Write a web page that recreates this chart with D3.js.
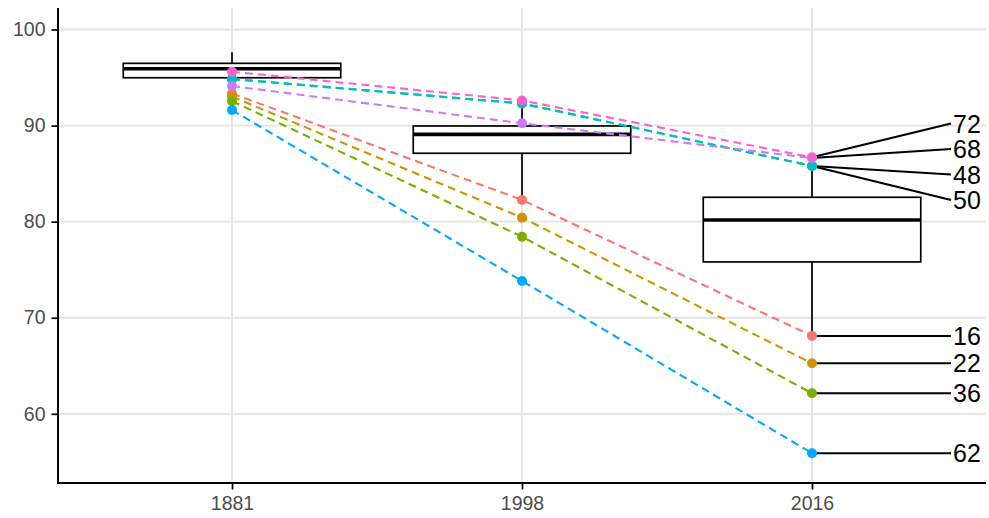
<!DOCTYPE html>
<html>
<head>
<meta charset="utf-8">
<script src="https://cdn.jsdelivr.net/npm/d3@7"></script>
<style>
  html, body { margin: 0; padding: 0; background: #fff; }
  svg { display: block; }
</style>
</head>
<body>
<svg id="chart" width="989" height="518"></svg>
<script>
// ---- data ----
const years = ["1881", "1998", "2016"];
const groups = ["16", "22", "36", "48", "50", "62", "68", "72"];
const groupColors = ["#F8766D", "#CD9600", "#7CAE00", "#00BE67", "#00BFC4", "#00A9FF", "#C77CFF", "#FF61CC"];
const v16 = [93.35, 82.26, 68.11];
const v22 = [93.02, 80.42, 65.26];
const v36 = [92.55, 78.44, 62.14];
const v48 = [94.85, 92.30, 85.80];
const v50 = [94.85, 92.30, 85.80];
const v62 = [91.62, 73.83, 55.90];
const v68 = [94.12, 90.24, 86.62];
const v72 = [95.61, 92.62, 86.70];
const seriesValues = [v16, v22, v36, v48, v50, v62, v68, v72];

// boxplot statistics per year
const whiskerLow  = [93.40, 82.26, 68.11];
const boxQ1       = [94.98, 87.12, 75.81];
const boxMedian   = [95.92, 89.09, 80.18];
const boxQ3       = [96.48, 89.96, 82.54];
const whiskerHigh = [97.63, 92.62, 85.80];

const yTicks = [60, 70, 80, 90, 100];

// ---- layout ----
const svg = d3.select("#chart");
const mLeft = 58, mRight = 986, mTop = 8, mBottom = 483;

const x = d3.scalePoint().domain(years).range([mLeft, mRight]).padding(0.6);
const y = d3.scaleLinear().domain([52.8, 102.24]).range([mBottom, mTop]);
const boxW = x.step() * 0.75;

// grid
const grid = svg.append("g");
grid.selectAll("line.h").data(yTicks).join("line")
  .attr("x1", mLeft).attr("x2", mRight)
  .attr("y1", d => y(d)).attr("y2", d => y(d))
  .attr("stroke", "#E3E3E3").attr("stroke-width", 1.8);
grid.selectAll("line.v").data(years).join("line")
  .attr("y1", mTop).attr("y2", mBottom)
  .attr("x1", d => x(d)).attr("x2", d => x(d))
  .attr("stroke", "#E3E3E3").attr("stroke-width", 1.8);

// boxplots
const boxes = svg.append("g");
years.forEach((yr, i) => {
  const cx = x(yr);
  const g = boxes.append("g");
  g.append("line").attr("x1", cx).attr("x2", cx)
    .attr("y1", y(whiskerHigh[i])).attr("y2", y(boxQ3[i]))
    .attr("stroke", "#000").attr("stroke-width", 1.7);
  g.append("line").attr("x1", cx).attr("x2", cx)
    .attr("y1", y(boxQ1[i])).attr("y2", y(whiskerLow[i]))
    .attr("stroke", "#000").attr("stroke-width", 1.7);
  g.append("rect").attr("x", cx - boxW / 2).attr("width", boxW)
    .attr("y", y(boxQ3[i])).attr("height", y(boxQ1[i]) - y(boxQ3[i]))
    .attr("fill", "#fff").attr("stroke", "#000").attr("stroke-width", 1.7);
  g.append("line").attr("x1", cx - boxW / 2).attr("x2", cx + boxW / 2)
    .attr("y1", y(boxMedian[i])).attr("y2", y(boxMedian[i]))
    .attr("stroke", "#000").attr("stroke-width", 3.6);
});

// dashed lines
const line = d3.line().x((d, i) => x(years[i])).y(d => y(d));
svg.append("g").selectAll("path").data(seriesValues).join("path")
  .attr("d", d => line(d))
  .attr("fill", "none")
  .attr("stroke", (d, i) => groupColors[i])
  .attr("stroke-width", 2.1)
  .attr("stroke-dasharray", "8,5");

// label segments + labels for 2016 (simple repel)
const lastIdx = years.length - 1;
const lx = x(years[lastIdx]);
const labelItems = groups.map((g, i) => ({ name: g, py: y(seriesValues[i][lastIdx]), color: groupColors[i] }));
labelItems.sort((a, b) => a.py - b.py);
labelItems.forEach(d => d.ly = d.py);
const gap = 25.5;
let clusters = labelItems.map(d => [d]);
let merged = true;
while (merged) {
  merged = false;
  for (let k = 0; k < clusters.length - 1; k++) {
    const a = clusters[k], b = clusters[k + 1];
    const aEnd = a[a.length - 1].ly, bStart = b[0].ly;
    if (bStart - aEnd < gap - 1e-6) {
      const c = a.concat(b);
      const mean = d3.mean(c, d => d.py);
      const n = c.length;
      c.forEach((d, j) => d.ly = mean + (j - (n - 1) / 2) * gap);
      clusters.splice(k, 2, c);
      merged = true;
      break;
    }
  }
}
const segEnd = 951;
const lab = svg.append("g");
lab.selectAll("line").data(labelItems).join("line")
  .attr("x1", lx).attr("y1", d => d.py)
  .attr("x2", segEnd).attr("y2", d => d.ly)
  .attr("stroke", "#000").attr("stroke-width", 2);

// points
const pts = svg.append("g");
seriesValues.forEach((vals, i) => {
  pts.selectAll(null).data(vals).join("circle")
    .attr("cx", (d, j) => x(years[j]))
    .attr("cy", d => y(d))
    .attr("r", 5)
    .attr("fill", groupColors[i]);
});

lab.selectAll("text").data(labelItems).join("text")
  .attr("x", segEnd + 2).attr("y", d => d.ly)
  .attr("dy", "0.36em")
  .attr("font-family", "Liberation Sans, Arial, sans-serif")
  .attr("font-size", 25)
  .attr("fill", "#000")
  .text(d => d.name);

// axes
const yAxis = svg.append("g").attr("transform", `translate(${mLeft},0)`)
  .call(d3.axisLeft(y).tickValues(yTicks).tickSize(6.5).tickPadding(6));
const xAxis = svg.append("g").attr("transform", `translate(0,${mBottom})`)
  .call(d3.axisBottom(x).tickSize(6.5).tickPadding(7));
[yAxis, xAxis].forEach(ax => {
  ax.select(".domain").remove();
  ax.selectAll(".tick line").attr("stroke", "#000").attr("stroke-width", 1.7);
  ax.selectAll(".tick text")
    .attr("font-family", "Liberation Sans, Arial, sans-serif")
    .attr("font-size", 19.5)
    .attr("fill", "#4D4D4D");
});
svg.append("line").attr("x1", mLeft).attr("x2", mLeft).attr("y1", mTop).attr("y2", mBottom + 1)
  .attr("stroke", "#000").attr("stroke-width", 2);
svg.append("line").attr("x1", mLeft - 1).attr("x2", mRight).attr("y1", mBottom).attr("y2", mBottom)
  .attr("stroke", "#000").attr("stroke-width", 2);
</script>
</body>
</html>
